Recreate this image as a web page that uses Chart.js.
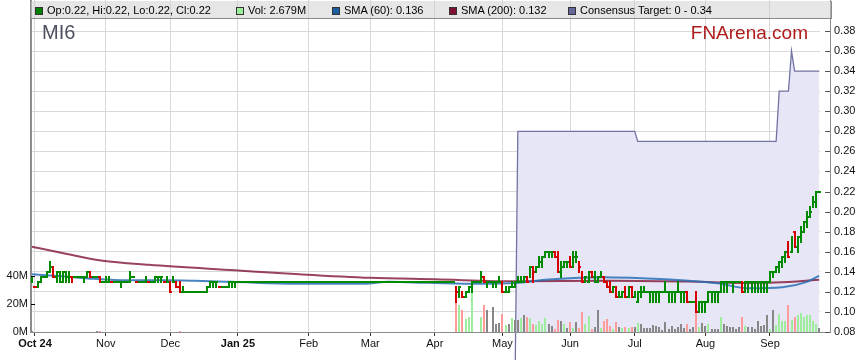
<!DOCTYPE html>
<html>
<head>
<meta charset="utf-8">
<title>MI6</title>
<script src="https://cdn.jsdelivr.net/npm/chart.js@4.4.1/dist/chart.umd.min.js"></script>
<style>
  body { margin: 0; background: #fff; }
  #box { position: relative; width: 859px; height: 363px; font-family: Arial, "Liberation Sans", sans-serif; }
  #chart { position: absolute; left: 0; top: 0; }
  #legend { position: absolute; left: 31px; top: 1px; width: 800px; height: 17px; background: rgba(205,205,205,0.5); border-bottom: 1px solid #8a8a8a; border-right: 1px solid #8a8a8a; }
  .item { position: absolute; top: 4px; font-size: 11px; line-height: 11px; color: #000; white-space: nowrap; }
  .sw { position: absolute; top: 2px; width: 6px; height: 6px; border: 1px solid #333; }
  .txt { position: absolute; left: 12px; top: 0; }
  #code { position: absolute; left: 42px; top: 22px; font-size: 20px; line-height: 20px; color: #4d5060; }
  #brand { position: absolute; right: 51px; top: 23px; font-size: 19px; line-height: 19px; color: #b01c1c; }
</style>
</head>
<body>
<div id="box">
  <canvas id="chart" width="859" height="363"></canvas>
  <div id="legend"></div>
  <div id="code">MI6</div>
  <div id="brand">FNArena.com</div>
</div>
<script>
// weekday index 0 = Mon 30 Sep 2024, last = Tue 23 Sep 2025
const monthTicks = [1, 24, 45, 67, 90, 110, 131, 153, 175, 196, 219, 240];
const monthLabels = ['Oct 24', 'Nov', 'Dec', 'Jan 25', 'Feb', 'Mar', 'Apr', 'May', 'Jun', 'Jul', 'Aug', 'Sep'];
const priceTicks = [0.08, 0.10, 0.12, 0.14, 0.16, 0.18, 0.20, 0.22, 0.24, 0.26, 0.28, 0.30, 0.32, 0.34, 0.36, 0.38];
const volTicks = [0, 20, 40];

// [open, high, low, close] per trading day
const ohlc = [
  // Sep 30
  [0.135,0.135,0.13,0.13],
  // Oct
  [0.125,0.125,0.125,0.125],[0.125,0.13,0.125,0.13],[0.13,0.135,0.13,0.135],[0.135,0.135,0.135,0.135],
  [0.135,0.14,0.135,0.14],[0.14,0.15,0.14,0.145],[0.145,0.145,0.135,0.135],[0.135,0.14,0.13,0.14],
  [0.14,0.14,0.13,0.14],[0.13,0.14,0.13,0.14],[0.14,0.14,0.13,0.14],[0.135,0.14,0.13,0.14],
  [0.135,0.135,0.13,0.13],[0.135,0.135,0.135,0.135],[0.135,0.135,0.135,0.135],[0.135,0.135,0.135,0.135],
  [0.13,0.135,0.13,0.135],[0.135,0.14,0.135,0.14],[0.14,0.14,0.135,0.135],[0.135,0.135,0.135,0.135],
  [0.135,0.135,0.135,0.135],[0.135,0.135,0.13,0.13],[0.13,0.13,0.13,0.13],
  // Nov
  [0.13,0.135,0.13,0.135],[0.13,0.135,0.13,0.135],[0.13,0.13,0.13,0.13],[0.13,0.13,0.13,0.13],
  [0.13,0.13,0.13,0.13],[0.13,0.13,0.125,0.13],[0.13,0.13,0.13,0.13],[0.13,0.13,0.13,0.13],
  [0.13,0.14,0.13,0.135],[0.135,0.135,0.135,0.135],[0.13,0.13,0.13,0.13],[0.13,0.13,0.13,0.13],
  [0.13,0.13,0.13,0.13],[0.13,0.135,0.13,0.135],[0.13,0.13,0.13,0.13],[0.13,0.13,0.13,0.13],
  [0.13,0.135,0.13,0.135],[0.135,0.135,0.13,0.135],[0.13,0.135,0.13,0.135],[0.13,0.13,0.13,0.13],
  [0.13,0.135,0.13,0.13],
  // Dec
  [0.13,0.13,0.12,0.12],[0.13,0.135,0.13,0.13],[0.13,0.13,0.125,0.125],[0.125,0.13,0.12,0.12],
  [0.12,0.125,0.12,0.12],[0.12,0.12,0.12,0.12],[0.12,0.12,0.12,0.12],[0.12,0.12,0.12,0.12],
  [0.12,0.12,0.12,0.12],[0.12,0.12,0.12,0.12],[0.12,0.12,0.12,0.12],[0.12,0.12,0.12,0.12],
  [0.12,0.125,0.12,0.125],[0.125,0.13,0.125,0.13],[0.125,0.13,0.125,0.13],[0.13,0.13,0.125,0.13],
  [0.125,0.125,0.125,0.125],[0.125,0.125,0.125,0.125],[0.125,0.125,0.125,0.125],[0.125,0.13,0.125,0.13],
  [0.13,0.13,0.125,0.13],[0.13,0.13,0.125,0.13],
  // Jan
  [0.13,0.13,0.13,0.13],[0.13,0.13,0.13,0.13],[0.13,0.13,0.13,0.13],[0.13,0.13,0.13,0.13],
  [0.13,0.13,0.13,0.13],[0.13,0.13,0.13,0.13],[0.13,0.13,0.13,0.13],[0.13,0.13,0.13,0.13],
  [0.13,0.13,0.13,0.13],[0.13,0.13,0.13,0.13],[0.13,0.13,0.13,0.13],[0.13,0.13,0.13,0.13],
  [0.13,0.13,0.13,0.13],[0.13,0.13,0.13,0.13],[0.13,0.13,0.13,0.13],[0.13,0.13,0.13,0.13],
  [0.13,0.13,0.13,0.13],[0.13,0.13,0.13,0.13],[0.13,0.13,0.13,0.13],[0.13,0.13,0.13,0.13],
  [0.13,0.13,0.13,0.13],[0.13,0.13,0.13,0.13],[0.13,0.13,0.13,0.13],
  // Feb
  [0.13,0.13,0.13,0.13],[0.13,0.13,0.13,0.13],[0.13,0.13,0.13,0.13],[0.13,0.13,0.13,0.13],
  [0.13,0.13,0.13,0.13],[0.13,0.13,0.13,0.13],[0.13,0.13,0.13,0.13],[0.13,0.13,0.13,0.13],
  [0.13,0.13,0.13,0.13],[0.13,0.13,0.13,0.13],[0.13,0.13,0.13,0.13],[0.13,0.13,0.13,0.13],
  [0.13,0.13,0.13,0.13],[0.13,0.13,0.13,0.13],[0.13,0.13,0.13,0.13],[0.13,0.13,0.13,0.13],
  [0.13,0.13,0.13,0.13],[0.13,0.13,0.13,0.13],[0.13,0.13,0.13,0.13],[0.13,0.13,0.13,0.13],
  // Mar
  [0.13,0.13,0.13,0.13],[0.13,0.13,0.13,0.13],[0.13,0.13,0.13,0.13],[0.13,0.13,0.13,0.13],
  [0.13,0.13,0.13,0.13],[0.13,0.13,0.13,0.13],[0.13,0.13,0.13,0.13],[0.13,0.13,0.13,0.13],
  [0.13,0.13,0.13,0.13],[0.13,0.13,0.13,0.13],[0.13,0.13,0.13,0.13],[0.13,0.13,0.13,0.13],
  [0.13,0.13,0.13,0.13],[0.13,0.13,0.13,0.13],[0.13,0.13,0.13,0.13],[0.13,0.13,0.13,0.13],
  [0.13,0.13,0.13,0.13],[0.13,0.13,0.13,0.13],[0.13,0.13,0.13,0.13],[0.13,0.13,0.13,0.13],
  [0.13,0.13,0.13,0.13],
  // Apr
  [0.13,0.13,0.13,0.13],[0.13,0.13,0.13,0.13],[0.13,0.13,0.13,0.13],[0.13,0.13,0.13,0.13],
  [0.13,0.13,0.13,0.13],[0.13,0.13,0.13,0.13],[0.13,0.13,0.13,0.13],[0.125,0.125,0.11,0.12],
  [0.115,0.125,0.115,0.125],[0.12,0.12,0.115,0.115],[0.115,0.12,0.115,0.12],[0.12,0.125,0.12,0.125],
  [0.125,0.13,0.12,0.13],[0.13,0.13,0.13,0.13],[0.13,0.13,0.13,0.13],[0.13,0.14,0.13,0.135],
  [0.135,0.135,0.13,0.13],[0.125,0.13,0.125,0.13],[0.13,0.13,0.13,0.13],[0.125,0.13,0.125,0.13],
  [0.13,0.13,0.125,0.13],[0.13,0.135,0.13,0.13],
  // May
  [0.13,0.13,0.12,0.12],[0.12,0.125,0.12,0.125],[0.12,0.125,0.12,0.125],[0.125,0.13,0.125,0.13],
  [0.125,0.13,0.125,0.13],[0.13,0.135,0.13,0.13],[0.13,0.135,0.13,0.135],[0.13,0.135,0.13,0.135],
  [0.135,0.135,0.13,0.13],[0.135,0.145,0.135,0.145],[0.145,0.145,0.13,0.14],[0.14,0.145,0.14,0.145],
  [0.145,0.155,0.145,0.15],[0.15,0.155,0.145,0.155],[0.155,0.16,0.155,0.16],[0.16,0.16,0.155,0.16],
  [0.16,0.16,0.155,0.16],[0.16,0.16,0.155,0.155],[0.155,0.16,0.14,0.14],[0.14,0.15,0.135,0.14],
  [0.145,0.15,0.145,0.15],[0.15,0.15,0.145,0.15],
  // Jun
  [0.155,0.155,0.145,0.145],[0.145,0.16,0.145,0.155],[0.155,0.16,0.15,0.155],[0.15,0.15,0.14,0.145],
  [0.14,0.14,0.13,0.13],[0.13,0.135,0.13,0.135],[0.13,0.14,0.13,0.14],[0.14,0.14,0.135,0.135],
  [0.135,0.14,0.13,0.135],[0.13,0.135,0.13,0.135],[0.135,0.14,0.135,0.14],[0.135,0.135,0.13,0.13],
  [0.13,0.13,0.125,0.125],[0.125,0.13,0.12,0.12],[0.12,0.125,0.12,0.125],[0.125,0.125,0.115,0.115],
  [0.115,0.12,0.115,0.115],[0.115,0.12,0.115,0.12],[0.125,0.125,0.115,0.115],[0.115,0.125,0.115,0.12],
  [0.125,0.125,0.115,0.115],
  // Jul
  [0.115,0.12,0.115,0.115],[0.11,0.12,0.11,0.12],[0.12,0.125,0.115,0.12],[0.12,0.125,0.12,0.12],
  [0.12,0.12,0.12,0.12],[0.12,0.12,0.11,0.12],[0.12,0.12,0.11,0.12],[0.12,0.12,0.11,0.12],
  [0.12,0.12,0.11,0.12],[0.12,0.12,0.12,0.12],[0.12,0.13,0.12,0.12],[0.12,0.12,0.11,0.12],
  [0.12,0.12,0.11,0.12],[0.12,0.12,0.11,0.12],[0.12,0.13,0.12,0.12],[0.12,0.12,0.11,0.12],
  [0.12,0.12,0.11,0.12],[0.12,0.12,0.11,0.11],[0.11,0.11,0.11,0.11],[0.11,0.11,0.11,0.11],
  [0.115,0.12,0.10,0.10],[0.10,0.11,0.10,0.11],[0.11,0.11,0.10,0.11],
  // Aug
  [0.11,0.11,0.10,0.11],[0.11,0.12,0.11,0.12],[0.12,0.12,0.11,0.12],[0.12,0.12,0.11,0.12],
  [0.12,0.12,0.11,0.12],[0.12,0.13,0.12,0.13],[0.13,0.13,0.12,0.13],[0.13,0.13,0.12,0.13],
  [0.13,0.13,0.13,0.13],[0.13,0.13,0.12,0.13],[0.13,0.13,0.13,0.13],[0.13,0.13,0.13,0.13],
  [0.13,0.13,0.12,0.12],[0.12,0.13,0.12,0.13],[0.13,0.13,0.12,0.13],[0.13,0.13,0.12,0.13],
  [0.13,0.13,0.12,0.13],[0.13,0.13,0.12,0.13],[0.13,0.13,0.12,0.13],[0.13,0.13,0.12,0.13],
  [0.13,0.13,0.12,0.13],
  // Sep
  [0.13,0.14,0.13,0.14],[0.14,0.14,0.135,0.14],[0.14,0.145,0.14,0.145],[0.14,0.15,0.14,0.15],
  [0.15,0.155,0.145,0.155],[0.155,0.16,0.15,0.16],[0.165,0.17,0.155,0.155],[0.16,0.175,0.16,0.17],
  [0.18,0.18,0.165,0.165],[0.165,0.175,0.16,0.175],[0.175,0.185,0.17,0.18],[0.18,0.19,0.18,0.19],
  [0.19,0.2,0.185,0.195],[0.195,0.205,0.195,0.2],[0.205,0.215,0.205,0.21],[0.21,0.22,0.205,0.22],
  [0.22,0.22,0.22,0.22]
];

// volume in millions per trading day
const volume = [
  0.8,
  // Oct
  0,0,0,0,0,0,0,0,0,0,0,0,0,0,0,0,0,0,0,0,1,1,0,
  // Nov
  0,0,0,0,0,0,0,0,0,0,0,0,0,0,0,0,0,0,0,0,0,
  // Dec
  0,0,0,1,0,0,0,0,0,0,0,0,0,0,0,0,0,0,0,0,0,0,
  // Jan
  0,0,0,0,0,0,0,0,0,0,0,0,0,0,0,0,0,0,0,0,0,0,0,
  // Feb
  0,0,0,0,0,0,0,0,0,0,0,0,0,0,0,0,0,0,0,0,
  // Mar
  0,0,0,0,0,0,0,0,0,0,0,0,0,0,0,0,0,0,0,0,0,
  // Apr
  0,0,0,0,0,0,0,33,19,15.5,9,11,30,0,0,11,19,15.5,0,18,6,6.5,
  // May
  12.6,5,5.5,10,8.4,8.8,10.3,11.9,10.7,10,6,4.8,7.9,6,10,6,4.1,2.4,8.4,7.6,6,3.1,
  // Jun
  7.1,3.1,7.1,3.1,14.3,5.5,11.2,2.4,3.6,15.5,3.1,8,9,4.3,2.4,7.1,3.6,3.1,3.6,3,3.6,
  // Jul
  3.6,6.7,5.5,3.1,3,3.1,4.8,4.3,3.6,1.7,7.1,2.4,4.3,2.4,3.6,6,3.1,6,2.4,3.6,13.6,3.6,6.7,
  // Aug
  4.3,6,2,2,2,10.7,6,4.3,3.6,3.6,2,3.6,10.7,4.3,3.6,3.6,2.4,7.6,4.3,4.8,12.4,
  // Sep
  2,15.5,4.8,12.6,8.1,7.6,19,8.8,10.7,12.4,13.6,10.7,12.4,12.4,7.6,5.5,2.679
];

const sma60Day = [0, 10, 20, 31, 42, 53, 65, 86, 108, 116, 129, 146, 158, 167, 178, 185, 206, 223, 233, 244, 252, 256];
const sma60Val = [0.1375, 0.1355, 0.133, 0.1315, 0.1315, 0.131, 0.13, 0.128, 0.128, 0.13, 0.129, 0.128, 0.129, 0.132, 0.134, 0.1345, 0.1325, 0.1285, 0.1236, 0.1246, 0.13, 0.136];
const sma200Day = [0, 11, 23, 38, 66, 87, 110, 131, 158, 188, 217, 233, 246, 256];
const sma200Val = [0.165, 0.158, 0.151, 0.147, 0.1415, 0.1375, 0.134, 0.1325, 0.1305, 0.131, 0.13, 0.1288, 0.1298, 0.132];
const targetDay = [0, 157, 158, 196, 197, 242, 243, 246, 247, 248, 256];
const targetVal = [0, 0, 0.28, 0.28, 0.27, 0.27, 0.32, 0.32, 0.36, 0.34, 0.34];

const UP = '#008a00', DOWN = '#d40000';
const change = i => i === 0 ? 0 : Math.sign(ohlc[i][3] - ohlc[i - 1][3]);
const priceColor = i => change(i) < 0 ? DOWN : UP;
const volColor = i => { const c = change(i); return c > 0 ? '#9ded9d' : c < 0 ? '#ff9b9b' : '#878787'; };

// volume bars, drawn right after the consensus area so they sit on top of it
const volumeBars = {
  id: 'volumeBars',
  afterDatasetDraw(chart, args) {
    if (args.index !== 0) return;
    const { ctx, scales: { x, yv } } = chart;
    const base = Math.round(yv.getPixelForValue(0));
    ctx.save();
    volume.forEach((v, i) => {
      if (!v) return;
      const cx = Math.round(x.getPixelForValue(i));
      const top = Math.round(yv.getPixelForValue(v));
      ctx.fillStyle = volColor(i);
      ctx.fillRect(cx - 1, top, 2, Math.max(base - top, 1));
    });
    ctx.restore();
  }
};

// open/high/low/close bars drawn through the chart scales
const ohlcBars = {
  id: 'ohlcBars',
  afterDatasetsDraw(chart) {
    const { ctx, chartArea: a, scales: { x, y } } = chart;
    const half = (x.getPixelForValue(1) - x.getPixelForValue(0)) / 2;
    ctx.save();
    ctx.beginPath();
    ctx.rect(a.left, a.top, a.right - a.left + 2, a.bottom - a.top);
    ctx.clip();
    ohlc.forEach((d, i) => {
      const px = x.getPixelForValue(i);
      const cx = Math.round(px);
      const yo = Math.round(y.getPixelForValue(d[0]));
      const yh = Math.round(y.getPixelForValue(d[1]));
      const yl = Math.round(y.getPixelForValue(d[2]));
      const yc = Math.round(y.getPixelForValue(d[3]));
      ctx.fillStyle = priceColor(i);
      if (yl > yh) ctx.fillRect(cx - 1, yh - 1, 2, yl - yh + 2);
      const l = Math.round(px - half), r = Math.round(px + half);
      ctx.fillRect(l, yo - 1, cx - l, 2);
      ctx.fillRect(cx, yc - 1, r - cx, 2);
    });
    ctx.restore();
  }
};

// right axis line sits a little off the plot, bottom line runs to it
const axisLines = {
  id: 'axisLines',
  afterDraw(chart) {
    const { ctx, chartArea: a, scales: { y, yv } } = chart;
    const ax = a.right + 10;
    ctx.save();
    ctx.fillStyle = '#8c8c8c';
    ctx.fillRect(ax, 0, 1, a.bottom + 1);
    ctx.fillRect(a.left, a.bottom, ax - a.left + 1, 1);
    ctx.fillStyle = '#555';
    priceTicks.forEach(v => ctx.fillRect(ax - 5, Math.round(y.getPixelForValue(v)), 5, 1));
    ctx.fillStyle = '#000';
    volTicks.slice(1).forEach(v => ctx.fillRect(a.left, Math.round(yv.getPixelForValue(v)), 4, 1));
    ctx.restore();
  }
};

const font = { family: 'Arial, "Liberation Sans", sans-serif', size: 11 };

new Chart(document.getElementById('chart'), {
  type: 'line',
  data: {
    datasets: [
      {
        label: 'Consensus Target',
        data: targetDay.map((d, k) => ({ x: d, y: targetVal[k] })),
        yAxisID: 'y',
        borderColor: '#7373a3',
        borderWidth: 1.3,
        backgroundColor: '#e6e6f6',
        fill: 'origin',
        pointRadius: 0,
        tension: 0,
        clip: { left: 0, top: 0, right: 0, bottom: 28 },
        order: 5
      },
      {
        label: 'SMA (200)',
        data: sma200Day.map((d, k) => ({ x: d, y: sma200Val[k] })),
        yAxisID: 'y',
        borderColor: 'rgba(128,20,52,0.8)',
        borderWidth: 2,
        pointRadius: 0,
        cubicInterpolationMode: 'monotone',
        order: 3
      },
      {
        label: 'SMA (60)',
        data: sma60Day.map((d, k) => ({ x: d, y: sma60Val[k] })),
        yAxisID: 'y',
        borderColor: 'rgba(40,110,180,0.85)',
        borderWidth: 2,
        pointRadius: 0,
        cubicInterpolationMode: 'monotone',
        order: 2
      }
    ]
  },
  options: {
    responsive: false,
    animation: false,
    devicePixelRatio: 1,
    layout: { padding: 0 },
    plugins: { legend: { display: false }, tooltip: { enabled: false } },
    scales: {
      x: {
        type: 'linear',
        min: -0.3,
        max: 256.26,
        offset: false,
        afterBuildTicks: s => { s.ticks = monthTicks.map(v => ({ value: v })); },
        afterFit: s => { s.height = 31; s.paddingLeft = 0; s.paddingRight = 0; },
        ticks: {
          autoSkip: false,
          maxRotation: 0,
          padding: 1,
          color: '#111',
          font: c => ({ ...font, weight: /\d/.test(monthLabels[c.index] || '') ? 'bold' : 'normal' }),
          callback: (v, k) => monthLabels[k]
        },
        grid: { color: '#d9d9d9', tickColor: '#333', tickLength: 4, offset: false },
        border: { display: false }
      },
      y: {
        type: 'linear',
        position: 'right',
        min: 0.08,
        max: 0.4109,
        afterBuildTicks: s => { s.ticks = priceTicks.map(v => ({ value: v })); },
        afterFit: s => { s.width = 39; s.paddingTop = 0; s.paddingBottom = 0; },
        ticks: { padding: 14, color: '#111', font: font, callback: v => v.toFixed(2) },
        grid: { color: '#d9d9d9', drawTicks: false },
        border: { display: false }
      },
      yv: {
        type: 'linear',
        position: 'left',
        min: 0,
        max: 237.1,
        afterBuildTicks: s => { s.ticks = volTicks.map(v => ({ value: v })); },
        afterFit: s => { s.width = 31; s.paddingTop = 0; s.paddingBottom = 0; },
        ticks: { padding: 3, color: '#111', font: font, callback: v => v + 'M' },
        grid: { drawOnChartArea: false, drawTicks: false },
        border: { color: '#8c8c8c', width: 2 }
      }
    }
  },
  plugins: [volumeBars, ohlcBars, axisLines]
});

// legend bar text built from the last values
const last = ohlc[ohlc.length - 1];
const f2 = v => v.toFixed(2);
const legendItems = [
  { left: 4, color: '#008000', text: `Op:${f2(last[0])}, Hi:${f2(last[1])}, Lo:${f2(last[2])}, Cl:${f2(last[3])}` },
  { left: 205, color: '#9ded9d', text: `Vol: ${volume[volume.length - 1].toFixed(3)}M` },
  { left: 301, color: '#1f5f9f', text: `SMA (60): ${sma60Val[sma60Val.length - 1].toFixed(3)}` },
  { left: 418, color: '#7f1030', text: `SMA (200): ${sma200Val[sma200Val.length - 1].toFixed(3)}` },
  { left: 537, color: '#66669a', text: `Consensus Target: ${Math.min(...targetVal)} - ${targetVal[targetVal.length - 1]}` }
];
const legend = document.getElementById('legend');
legendItems.forEach(it => {
  const d = document.createElement('div');
  d.className = 'item';
  d.style.left = it.left + 'px';
  d.innerHTML = `<span class="sw" style="background:${it.color}"></span><span class="txt"></span>`;
  d.querySelector('.txt').textContent = it.text;
  legend.appendChild(d);
});
</script>
</body>
</html>
